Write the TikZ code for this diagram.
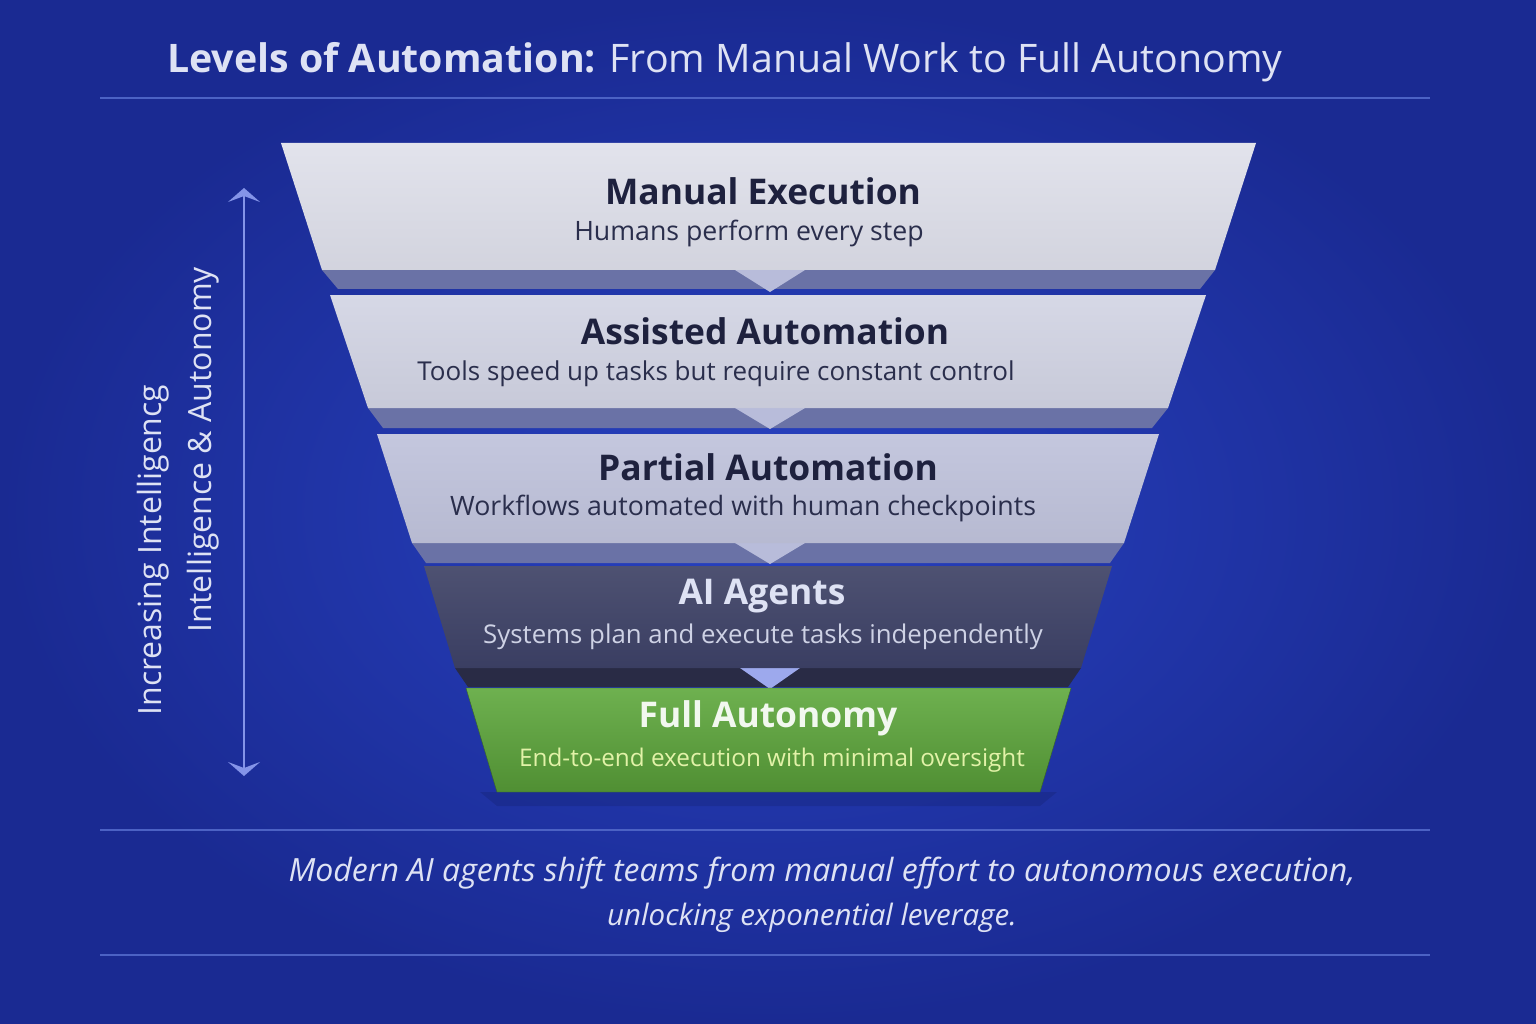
\documentclass[tikz,border=0pt]{standalone}
\usepackage{fontspec}
\setmainfont{Open Sans}
\usepackage{tikz}
\usetikzlibrary{arrows.meta}
\definecolor{bgin}{RGB}{40,66,194}
\definecolor{bgout}{RGB}{26,42,146}
\definecolor{titlefg}{RGB}{222,226,244}
\definecolor{rulec}{RGB}{76,98,196}
\definecolor{navy}{RGB}{30,33,62}
\definecolor{navysub}{RGB}{42,46,76}
\definecolor{lone}{RGB}{226,227,236}
\definecolor{ltwo}{RGB}{214,216,230}
\definecolor{lthree}{RGB}{196,199,222}
\definecolor{lfour}{RGB}{58,62,98}
\definecolor{lfive}{RGB}{94,168,60}
\definecolor{band}{RGB}{106,114,166}
\definecolor{tip}{RGB}{184,188,218}
\definecolor{axisc}{RGB}{132,148,232}
\definecolor{greensub}{RGB}{226,242,168}

\begin{document}
\begin{tikzpicture}[x = 1pt, y = -1pt]
			\useasboundingbox (0,0) rectangle (1536,1024);
			\shade[inner color = bgin, outer color = bgout] (0,0) rectangle (1536,1024);
			% title and rules
			\node (title) at (725,62) [text = titlefg, font = \fontsize{39.3}{45}\selectfont] {\textbf{Levels of Automation:} From Manual Work to Full Autonomy};
			\draw[rulec, line width = 1.5pt] (100,98) -- (1430,98);
			\draw[rulec, line width = 1.5pt] (100,830) -- (1430,830);
			\draw[rulec, line width = 1.5pt] (100,955) -- (1430,955);
			% level 1
			\fill[band] (322,270) -- (1215,270) -- (1200,289) -- (338,289) -- cycle;
			\fill[tip] (735,270) -- (805,270) -- (770,292) -- cycle;
			\shade[top color = lone, bottom color = lone!92!navy] (281,143) -- (1256,143) -- (1215,270) -- (322,270) -- cycle;
			% level 2
			\fill[band] (368,408) -- (1168,408) -- (1152,428) -- (383,428) -- cycle;
			\fill[tip] (735,408) -- (805,408) -- (770,429) -- cycle;
			\shade[top color = ltwo, bottom color = ltwo!92!navy] (330,295) -- (1206,295) -- (1168,408) -- (368,408) -- cycle;
			% level 3
			\fill[band] (412,543) -- (1124,543) -- (1110,563) -- (426,563) -- cycle;
			\fill[tip] (735,543) -- (805,543) -- (770,564) -- cycle;
			\shade[top color = lthree, bottom color = lthree!92!navy] (377,434) -- (1159,434) -- (1124,543) -- (412,543) -- cycle;
			% level 4
			\fill[lfour!70!black] (455,668) -- (1081,668) -- (1068,687) -- (468,687) -- cycle;
			\fill[axisc!80!white] (740,668) -- (800,668) -- (770,689) -- cycle;
			\shade[top color = lfour!90!white, bottom color = lfour] (424,566) -- (1112,566) -- (1081,668) -- (455,668) -- cycle;
			% level 5
			\fill[black, opacity = 0.1] (480,792) -- (1057,792) -- (1040,806) -- (497,806) -- cycle;
			\shade[top color = lfive!90!white, bottom color = lfive!85!black, draw = lfive!60!black] (466,688) -- (1071,688) -- (1040,792) -- (497,792) -- cycle;
			% labels
			\node (manual) at (763,191) [text = navy, font = \fontsize{35.4}{40}\selectfont\bfseries] {Manual Execution};
			\node (manualsub) at (749,233) [text = navysub, font = \fontsize{26.7}{30}\selectfont] {Humans perform every step};
			\node (assisted) at (765,331) [text = navy, font = \fontsize{35.4}{40}\selectfont\bfseries] {Assisted Automation};
			\node (assistedsub) at (716,374) [text = navysub, font = \fontsize{26}{30}\selectfont] {Tools speed up tasks but require constant control};
			\node (partial) at (768,467) [text = navy, font = \fontsize{35.4}{40}\selectfont\bfseries] {Partial Automation};
			\node (partialsub) at (743,508) [text = navysub, font = \fontsize{26.7}{30}\selectfont] {Workflows automated with human checkpoints};
			\node (agents) at (762,596) [text = titlefg, font = \fontsize{35.4}{40}\selectfont\bfseries] {AI Agents};
			\node (agentssub) at (763,637) [text = titlefg!90!lfour, font = \fontsize{25.8}{30}\selectfont] {Systems plan and execute tasks independently};
			\node (full) at (768,718) [text = white!92!lfive, font = \fontsize{35.4}{40}\selectfont\bfseries] {Full Autonomy};
			\node (fullsub) at (772,760) [text = greensub, font = \fontsize{24.3}{28}\selectfont] {End-to-end execution with minimal oversight};
			% axis
			\coordinate (up) at (244,188);
			\coordinate (down) at (244,776);
			\draw[axisc, line width = 2.5pt, {Stealth[length = 14pt, width = 32pt, inset = 6pt]}-{Stealth[length = 14pt, width = 32pt, inset = 6pt]}] (up) -- (down);
			\node (incr) at (153,550) [rotate = 90, text = titlefg, font = \fontsize{32}{36}\selectfont] {Increasing Intelligencg};
			\node (intel) at (203,450) [rotate = 90, text = titlefg, font = \fontsize{32}{36}\selectfont] {Intelligence \& Autonomy};
			% footer
			\node (foot1) at (822,873) [text = titlefg, font = \fontsize{32}{36}\selectfont\itshape] {Modern AI agents shift teams from manual effort to autonomous execution,};
			\node (foot2) at (812,918) [text = titlefg, font = \fontsize{29.5}{34}\selectfont\itshape] {unlocking exponential leverage.};
			\end{tikzpicture}
\end{document}
